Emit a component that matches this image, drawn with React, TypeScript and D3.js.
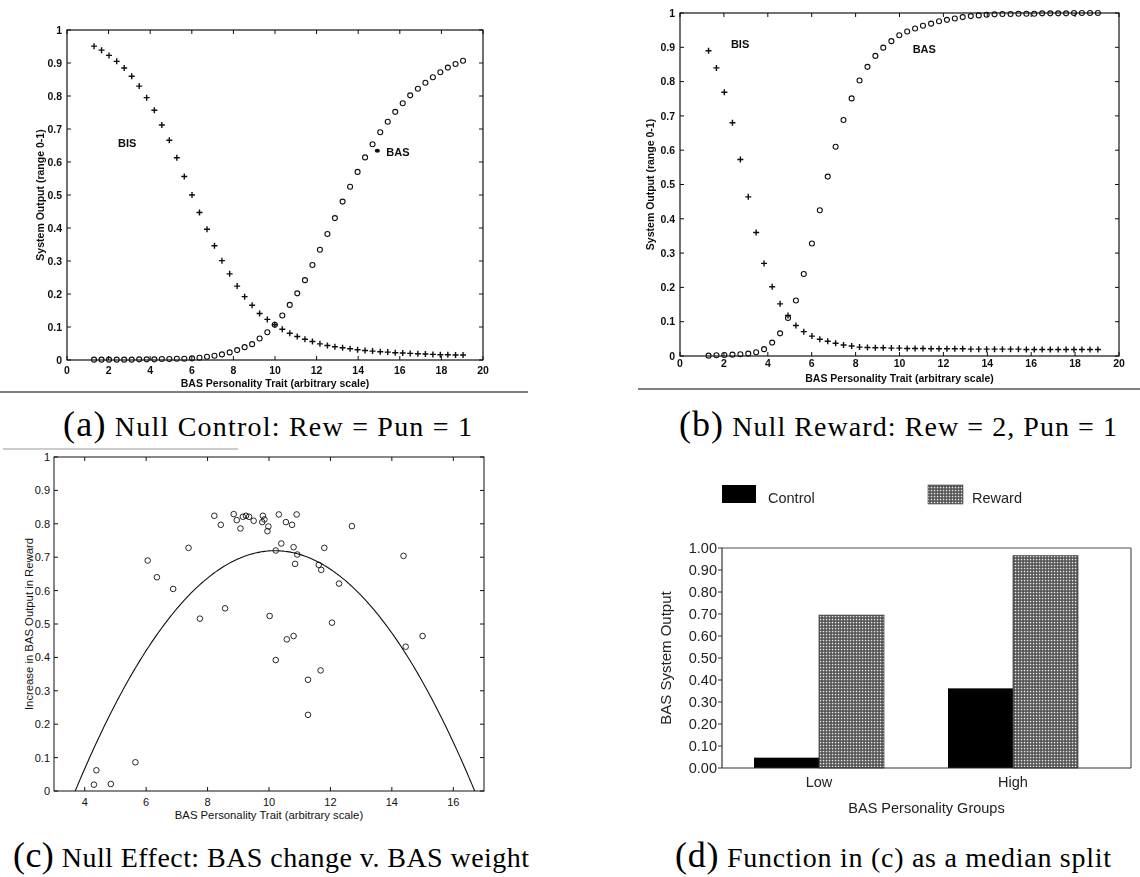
import React from "react";
import * as d3 from "d3";

// BAS personality trait sweep used by the simulations in (a) and (b)
const traitGrid = [
  1.30, 1.66, 2.02, 2.39, 2.75, 3.11, 3.47, 3.83, 4.20, 4.56,
  4.92, 5.28, 5.64, 6.01, 6.37, 6.73, 7.09, 7.45, 7.82, 8.18,
  8.54, 8.90, 9.26, 9.63, 9.99, 10.35, 10.71, 11.07, 11.44, 11.80,
  12.16, 12.52, 12.88, 13.25, 13.61, 13.97, 14.33, 14.69, 15.06, 15.42,
  15.78, 16.14, 16.50, 16.87, 17.23, 17.59, 17.95, 18.31, 18.68, 19.04,
];

// (a) Null control: Rew = Pun = 1
const bisControl = [
  0.951, 0.939, 0.923, 0.905, 0.885, 0.86, 0.83, 0.795, 0.757, 0.712,
  0.666, 0.613, 0.556, 0.5, 0.447, 0.396, 0.346, 0.301, 0.261, 0.224,
  0.192, 0.166, 0.141, 0.123, 0.107, 0.093, 0.081, 0.071, 0.063, 0.056,
  0.049, 0.044, 0.04, 0.037, 0.034, 0.031, 0.029, 0.027, 0.025, 0.024,
  0.022, 0.021, 0.02, 0.019, 0.018, 0.017, 0.016, 0.016, 0.015, 0.015,
];
const basControl = [
  0.001, 0.001, 0.001, 0.001, 0.001, 0.001, 0.002, 0.002, 0.002, 0.003,
  0.003, 0.004, 0.004, 0.005, 0.007, 0.01, 0.013, 0.017, 0.023, 0.03,
  0.039, 0.048, 0.065, 0.084, 0.107, 0.135, 0.167, 0.202, 0.242, 0.288,
  0.334, 0.382, 0.43, 0.48, 0.525, 0.57, 0.614, 0.654, 0.69, 0.722,
  0.752, 0.778, 0.802, 0.822, 0.84, 0.857, 0.872, 0.886, 0.897, 0.907,
];

// (b) Null reward: Rew = 2, Pun = 1
const bisReward = [
  0.89, 0.84, 0.769, 0.68, 0.573, 0.464, 0.36, 0.27, 0.202, 0.152,
  0.118, 0.089, 0.071, 0.058, 0.049, 0.043, 0.037, 0.032, 0.029, 0.026,
  0.025, 0.024, 0.024, 0.023, 0.023, 0.022, 0.022, 0.022, 0.021, 0.021,
  0.021, 0.021, 0.021, 0.02, 0.02, 0.02, 0.02, 0.02, 0.02, 0.02,
  0.019, 0.019, 0.019, 0.019, 0.019, 0.019, 0.019, 0.019, 0.019, 0.019,
];
const basReward = [
  0.001, 0.002, 0.003, 0.004, 0.005, 0.007, 0.011, 0.02, 0.039, 0.066,
  0.111, 0.162, 0.239, 0.328, 0.425, 0.523, 0.61, 0.688, 0.751, 0.803,
  0.843, 0.875, 0.899, 0.918, 0.935, 0.946, 0.955, 0.963, 0.969, 0.976,
  0.98, 0.984, 0.988, 0.991, 0.993, 0.995, 0.996, 0.997, 0.997, 0.998,
  0.998, 0.998, 0.999, 0.999, 0.999, 0.999, 1.0, 1.0, 1.0, 1.0,
];

// (c) BAS weight of each simulated agent and its increase in BAS output
const basWeight = [
  6.05, 6.35, 6.88, 7.38, 7.75, 8.22, 8.43, 8.57, 8.85, 8.95,
  9.07, 9.15, 9.25, 9.35, 9.5, 9.8, 9.78, 9.85, 9.98, 9.95,
  10.02, 10.22, 10.32, 10.4, 10.55, 10.58, 10.75, 10.9, 12.7, 10.8,
  10.92, 10.85, 11.8, 11.62, 11.7, 12.28, 14.38, 12.05, 10.8, 15.0,
  14.45, 10.22, 11.27, 11.68, 11.27, 4.38, 4.3, 4.85, 5.65,
];
const basIncrease = [
  0.69, 0.64, 0.605, 0.728, 0.516, 0.824, 0.797, 0.547, 0.829, 0.811,
  0.786, 0.821, 0.824, 0.821, 0.809, 0.824, 0.805, 0.813, 0.792, 0.778,
  0.524, 0.72, 0.828, 0.741, 0.805, 0.454, 0.797, 0.828, 0.793, 0.73,
  0.708, 0.68, 0.728, 0.677, 0.662, 0.621, 0.704, 0.504, 0.464, 0.464,
  0.432, 0.392, 0.333, 0.361, 0.228, 0.062, 0.019, 0.021, 0.086,
];
// Quadratic fit c0 + c1*x + c2*x^2 through the (c) scatter
const fitCoeffs = [-1.0482, 0.3468, -0.01701];

// (d) median split of (c)
const groups = ["Low", "High"];
const controlOutput = [0.047, 0.362];
const rewardOutput = [0.695, 0.965];

const SANS = "'Liberation Sans', Arial, Helvetica, sans-serif";
const SERIF = "'Liberation Serif', 'Times New Roman', serif";
const INK = "#111";

const fmtTick = d3.format("~g");
const fmtBar = d3.format(".2f");
const tenths = d3.range(11).map((i) => i / 10);

type Lin = d3.ScaleLinear<number, number>;

function MatlabBox(props: {
  xs: Lin; ys: Lin; xTicks: number[]; yTicks: number[];
  fs: number; fw: string | number; xLabelBase: number; yLabelGap: number;
}) {
  const { xs, ys, xTicks, yTicks, fs, fw, xLabelBase, yLabelGap } = props;
  const [l, r] = xs.range();
  const [b, t] = ys.range();
  const tick = 4;
  return (
    <g fontFamily={SANS} fontSize={fs} fontWeight={fw} fill={INK}>
      <rect x={l} y={t} width={r - l} height={b - t} fill="none" stroke={INK} strokeWidth={1.2} />
      {xTicks.map((v) => (
        <g key={`x${v}`}>
          <line x1={xs(v)} x2={xs(v)} y1={b} y2={b - tick} stroke={INK} />
          <line x1={xs(v)} x2={xs(v)} y1={t} y2={t + tick} stroke={INK} />
          <text x={xs(v)} y={xLabelBase} textAnchor="middle">{fmtTick(v)}</text>
        </g>
      ))}
      {yTicks.map((v) => (
        <g key={`y${v}`}>
          <line x1={l} x2={l + tick} y1={ys(v)} y2={ys(v)} stroke={INK} />
          <line x1={r} x2={r - tick} y1={ys(v)} y2={ys(v)} stroke={INK} />
          <text x={l - yLabelGap} y={ys(v)} dy="0.36em" textAnchor="end">{fmtTick(v)}</text>
        </g>
      ))}
    </g>
  );
}

function Plus({ cx, cy }: { cx: number; cy: number }) {
  const s = 3;
  return <path d={`M${cx - s},${cy}h${2 * s}M${cx},${cy - s}v${2 * s}`} stroke={INK} strokeWidth={1.4} fill="none" />;
}

function Caption(props: { cx: number; y: number; width: number; tag: string; text: string }) {
  return (
    <text x={props.cx} y={props.y} textAnchor="middle" fontFamily={SERIF} fill="#000"
      textLength={props.width} lengthAdjust="spacing">
      <tspan fontSize={36}>{props.tag}</tspan>
      <tspan fontSize={28}>{" " + props.text}</tspan>
    </text>
  );
}

function SigmoidPanel(props: {
  xs: Lin; ys: Lin; bis: number[]; bas: number[]; xLabelBase: number; xTitleBase: number;
  yTitleX: number; bisAt: [number, number]; basAt: [number, number]; pointer?: [number, number];
}) {
  const { xs, ys, bis, bas } = props;
  const [l, r] = xs.range();
  const [b, t] = ys.range();
  return (
    <g filter="url(#scanSoft)">
      <MatlabBox xs={xs} ys={ys} xTicks={d3.range(0, 21, 2)} yTicks={tenths} fs={10.5} fw="bold"
        xLabelBase={props.xLabelBase} yLabelGap={5} />
      {traitGrid.map((v, i) => (
        <circle key={`o${i}`} cx={xs(v)} cy={ys(bas[i])} r={2.5} fill="none" stroke={INK} strokeWidth={1.1} />
      ))}
      {traitGrid.map((v, i) => (
        <Plus key={`p${i}`} cx={xs(v)} cy={ys(bis[i])} />
      ))}
      {props.pointer && (
        <ellipse cx={xs(props.pointer[0])} cy={ys(props.pointer[1])} rx={2.6} ry={2} fill={INK} />
      )}
      <g fontFamily={SANS} fontWeight="bold" fontSize={11} fill={INK}>
        <text x={xs(props.bisAt[0])} y={ys(props.bisAt[1])}>BIS</text>
        <text x={xs(props.basAt[0])} y={ys(props.basAt[1])}>BAS</text>
      </g>
      <g fontFamily={SANS} fontWeight="bold" fontSize={10.5} fill={INK}>
        <text x={(l + r) / 2} y={props.xTitleBase} textAnchor="middle">BAS Personality Trait (arbitrary scale)</text>
        <text transform={`translate(${props.yTitleX},${(b + t) / 2}) rotate(-90)`} textAnchor="middle">
          System Output (range 0-1)
        </text>
      </g>
    </g>
  );
}

export default function App() {
  // (a)
  const xA = d3.scaleLinear().domain([0, 20]).range([67, 483]);
  const yA = d3.scaleLinear().domain([0, 1]).range([360, 30]);
  // (b)
  const xB = d3.scaleLinear().domain([0, 20]).range([680, 1119]);
  const yB = d3.scaleLinear().domain([0, 1]).range([356, 13]);
  // (c)
  const xC = d3.scaleLinear().domain([3, 17]).range([54, 484]);
  const yC = d3.scaleLinear().domain([0, 1]).range([791, 457]);
  const fitX = d3.range(3, 17.001, 0.05);
  const fitLine = d3.line<number>()
    .x((v) => xC(v))
    .y((v) => yC(fitCoeffs[0] + fitCoeffs[1] * v + fitCoeffs[2] * v * v));
  // (d)
  const yD = d3.scaleLinear().domain([0, 1]).range([768, 548]);
  const dLeft = 722;
  const dRight = 1131;
  const groupX = d3.scalePoint<string>().domain(groups).range([722, 1110]).padding(0.5);
  const barW = 65;

  return (
    <svg width={1140} height={877} viewBox="0 0 1140 877"
      style={{ position: "absolute", left: 0, top: 0, background: "#fff" }}>
      <defs>
        <clipPath id="clipC">
          <rect x={54} y={457} width={430} height={334} />
        </clipPath>
        <pattern id="rewardFill" width={3} height={3} patternUnits="userSpaceOnUse">
          <rect width={3} height={3} fill="#505050" />
          <rect x={0.8} y={0.8} width={1.5} height={1.5} fill="#e8e8e8" />
        </pattern>
        <filter id="scanSoft" x="-5%" y="-5%" width="110%" height="110%">
          <feGaussianBlur stdDeviation={0.45} />
        </filter>
      </defs>
      <rect width={1140} height={877} fill="#fff" />

      {/* (a) */}
      <SigmoidPanel xs={xA} ys={yA} bis={bisControl} bas={basControl}
        xLabelBase={374} xTitleBase={387} yTitleX={44}
        bisAt={[2.45, 0.646]} basAt={[15.35, 0.618]} pointer={[14.92, 0.634]} />
      <line x1={0} x2={528} y1={392} y2={392} stroke="#555" strokeWidth={1.6} />
      <Caption cx={267.5} y={436} width={409} tag="(a)" text="Null Control: Rew = Pun = 1" />

      {/* (b) */}
      <SigmoidPanel xs={xB} ys={yB} bis={bisReward} bas={basReward}
        xLabelBase={367} xTitleBase={382} yTitleX={654}
        bisAt={[2.32, 0.897]} basAt={[10.6, 0.882]} />
      <line x1={638} x2={1140} y1={389} y2={389} stroke="#555" strokeWidth={1.6} />
      <Caption cx={898} y={436} width={438} tag="(b)" text="Null Reward: Rew = 2, Pun = 1" />

      {/* (c) */}
      <line x1={3} x2={238} y1={449} y2={449} stroke="#999" strokeWidth={1} />
      <g fontFamily={SANS} fontSize={11} fill={INK}>
        <rect x={54} y={457} width={430} height={334} fill="none" stroke={INK} strokeWidth={1} />
        {d3.range(4, 17, 2).map((v) => (
          <g key={`cx${v}`}>
            <line x1={xC(v)} x2={xC(v)} y1={791} y2={787} stroke={INK} />
            <line x1={xC(v)} x2={xC(v)} y1={457} y2={461} stroke={INK} />
            <text x={xC(v)} y={806} textAnchor="middle">{fmtTick(v)}</text>
          </g>
        ))}
        {tenths.map((v) => (
          <g key={`cy${v}`}>
            <line x1={54} x2={58} y1={yC(v)} y2={yC(v)} stroke={INK} />
            <line x1={484} x2={480} y1={yC(v)} y2={yC(v)} stroke={INK} />
            <text x={50} y={yC(v)} dy="0.36em" textAnchor="end">{fmtTick(v)}</text>
          </g>
        ))}
        <text x={269} y={819} textAnchor="middle" fontSize={11.3}>BAS Personality Trait (arbitrary scale)</text>
        <text transform={`translate(32.5,${(457 + 791) / 2}) rotate(-90)`} textAnchor="middle" fontSize={11.3}>
          Increase in BAS Output in Reward
        </text>
      </g>
      <path d={fitLine(fitX) ?? ""} fill="none" stroke={INK} strokeWidth={1.1} clipPath="url(#clipC)" />
      {basWeight.map((v, i) => (
        <circle key={`c${i}`} cx={xC(v)} cy={yC(basIncrease[i])} r={2.8} fill="none" stroke={INK} strokeWidth={0.9} />
      ))}
      <Caption cx={271} y={867} width={516} tag="(c)" text="Null Effect: BAS change v. BAS weight" />

      {/* (d) */}
      <g fontFamily={SANS} fontSize={14.5} fill="#222" filter="url(#scanSoft)">
        <rect x={722} y={485} width={34} height={18} fill="#000" />
        <text x={768} y={503}>Control</text>
        <rect x={928} y={485} width={35} height={19} fill="url(#rewardFill)" stroke="#444" strokeWidth={0.6} />
        <text x={972} y={503}>Reward</text>

        {groups.map((g, i) => (
          <g key={g}>
            <rect x={(groupX(g) ?? 0) - barW} y={yD(controlOutput[i])} width={barW}
              height={yD(0) - yD(controlOutput[i])} fill="#000" />
            <rect x={groupX(g) ?? 0} y={yD(rewardOutput[i])} width={barW}
              height={yD(0) - yD(rewardOutput[i])} fill="url(#rewardFill)" stroke="#333" strokeWidth={0.7} />
            <text x={groupX(g) ?? 0} y={787} textAnchor="middle">{g}</text>
          </g>
        ))}

        <line x1={dLeft} x2={dRight} y1={yD(1)} y2={yD(1)} stroke="#888" strokeWidth={1.4} />
        <line x1={dRight} x2={dRight} y1={yD(1)} y2={yD(0)} stroke="#555" strokeWidth={1.2} />
        <line x1={dLeft} x2={dRight} y1={yD(0)} y2={yD(0)} stroke="#333" strokeWidth={1.2} />
        <line x1={dLeft} x2={dLeft} y1={yD(1)} y2={yD(0)} stroke="#333" strokeWidth={1.2} />
        {tenths.map((v) => (
          <g key={`dy${v}`}>
            <line x1={dLeft - 4} x2={dLeft} y1={yD(v)} y2={yD(v)} stroke="#333" />
            <text x={717} y={yD(v)} dy="0.36em" textAnchor="end">{fmtBar(v)}</text>
          </g>
        ))}
        <text x={(dLeft + dRight) / 2} y={813} textAnchor="middle">BAS Personality Groups</text>
        <text transform={`translate(671,${(yD(0) + yD(1)) / 2}) rotate(-90)`} textAnchor="middle" fontSize={15}>
          BAS System Output
        </text>
      </g>
      <Caption cx={893} y={867} width={436} tag="(d)" text="Function in (c) as a median split" />
    </svg>
  );
}
